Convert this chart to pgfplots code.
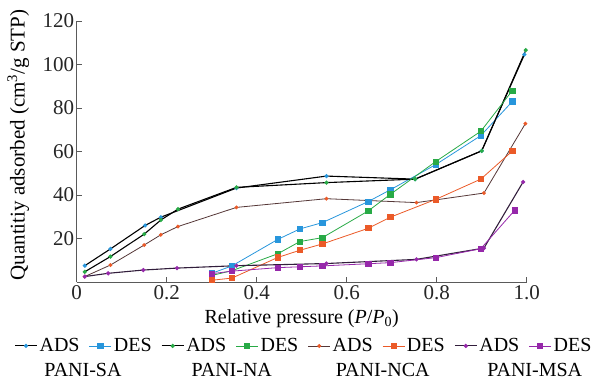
\documentclass[border=0pt]{standalone}
\usepackage{fontspec}
\setmainfont{Liberation Serif}
\usepackage{pgfplots}
\pgfplotsset{compat=1.18}
\definecolor{cblue}{RGB}{40,150,220}
\definecolor{cgreen}{RGB}{40,170,70}
\definecolor{corange}{RGB}{235,90,40}
\definecolor{cpurple}{RGB}{150,40,170}
\definecolor{cnca}{RGB}{85,55,55}
\definecolor{cmsa}{RGB}{50,30,60}
\definecolor{caxis}{RGB}{90,90,90}
\begin{document}
\begin{tikzpicture}
\useasboundingbox (-76.7pt,-99pt) rectangle (528.3pt,282pt);
\begin{axis}[
  scale only axis, width=450pt, height=261pt,
  xmin=0, xmax=1, ymin=0, ymax=120,
  axis x line*=bottom, axis y line*=left,
  axis line style={-, caxis, line width=0.9pt},
  tick align=inside, major tick length=5pt,
  tick style={caxis, line width=0.9pt},
  xtick={0,0.2,0.4,0.6,0.8,1.0}, xticklabels={0,0.2,0.4,0.6,0.8,1.0},
  ytick={20,40,60,80,100,120}, yticklabels={20,40,60,80,100,120},
  tick label style={font=\fontsize{21}{24}\selectfont, text=black!85},
  yticklabel style={xshift=1pt},
  xlabel={Relative pressure (\textit{P}/\textit{P}\textsubscript{0})},
  ylabel={Quantitiy adsorbed (cm\textsuperscript{3}/g STP)},
  xlabel style={at={(axis description cs:0.5,-0.14)}, anchor=center, font=\fontsize{20}{23}\selectfont},
  ylabel style={at={(axis description cs:-0.13,0.525)}, anchor=center, font=\fontsize{21}{24}\selectfont},
  legend columns=8,
  legend style={at={(axis description cs:0.505,-0.245)}, anchor=center, draw=none, fill=none,
    font=\fontsize{20}{23}\selectfont, /tikz/every even column/.append style={column sep=7.5pt},
    /tikz/every odd column/.append style={column sep=0pt}},
  legend cell align=left,
  legend image code/.code={\draw[#1] (0pt,0pt) -- (22pt,0pt); \draw[#1] plot coordinates {(11pt,0pt)};},
  ads/.style={line width=1.1pt, mark=*, mark size=1.5pt},
  des/.style={line width=0.8pt, mark=square*, mark size=2.6pt},
]
% PANI-SA
\addplot[ads, black, mark options={cblue, fill=cblue}] coordinates {
(0.018,7.5) (0.075,15.2) (0.152,26) (0.187,29.8) (0.355,43.2) (0.555,48.7) (0.752,47.3) (0.9,60.3) (0.995,104.6)};
\addlegendentry{ADS}
\addplot[des, cblue] coordinates {
(0.3,4) (0.345,7.4) (0.447,19.6) (0.496,24.4) (0.546,27.3) (0.648,37) (0.697,42.4) (0.798,54) (0.898,67.3) (0.968,83)};
\addlegendentry{DES}
% PANI-NA
\addplot[ads, black, mark options={cgreen, fill=cgreen}] coordinates {
(0.018,4.7) (0.075,11.7) (0.15,22) (0.187,28.5) (0.225,33.5) (0.355,43.5) (0.555,45.7) (0.752,47.3) (0.9,60.3) (0.998,106.6)};
\addlegendentry{ADS}
\addplot[des, cgreen] coordinates {
(0.3,3) (0.345,5.2) (0.447,13) (0.496,18.6) (0.546,20.4) (0.648,32.7) (0.697,40.3) (0.798,55.4) (0.898,69.3) (0.968,88)};
\addlegendentry{DES}
% PANI-NCA
\addplot[ads, cnca, line width=0.8pt, mark options={corange, fill=corange}] coordinates {
(0.018,2.5) (0.075,7.8) (0.15,17) (0.187,21.7) (0.225,25.5) (0.355,34.3) (0.555,38.3) (0.755,36.5) (0.905,40.9) (0.997,72.8)};
\addlegendentry{ADS}
\addplot[des, corange] coordinates {
(0.3,0.8) (0.345,1.8) (0.447,11.3) (0.496,14.6) (0.546,17.5) (0.648,24.7) (0.697,29.8) (0.798,38) (0.898,47.3) (0.968,60.2)};
\addlegendentry{DES}
% PANI-MSA
\addplot[ads, cmsa, mark options={cpurple, fill=cpurple}] coordinates {
(0.018,2.5) (0.07,4) (0.148,5.5) (0.223,6.4) (0.355,7.5) (0.555,8.5) (0.755,10.4) (0.905,15.6) (0.992,46)};
\addlegendentry{ADS}
\addplot[des, cpurple] coordinates {
(0.3,3.8) (0.345,5) (0.447,6.6) (0.496,7) (0.546,7.4) (0.648,8.4) (0.697,8.9) (0.798,11.2) (0.898,15.3) (0.973,32.9)};
\addlegendentry{DES}
\end{axis}
\begin{scope}[every node/.style={font=\fontsize{20}{23}\selectfont, anchor=center}]
\node at (6.3pt,-88pt) {PANI-SA};
\node at (155pt,-88pt) {PANI-NA};
\node at (306pt,-88pt) {PANI-NCA};
\node at (458pt,-88pt) {PANI-MSA};
\end{scope}
\end{tikzpicture}
\end{document}
